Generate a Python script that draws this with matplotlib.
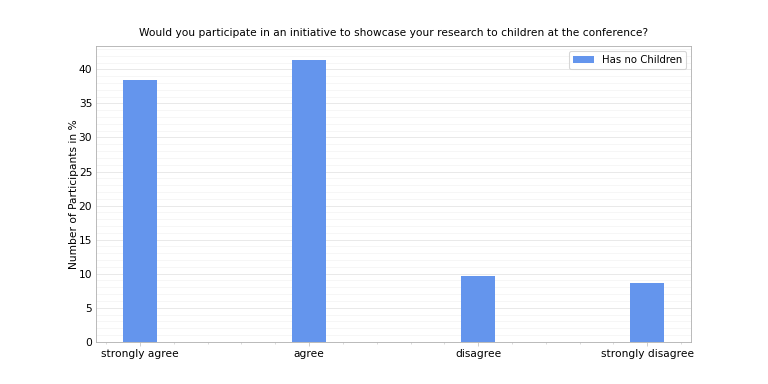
import matplotlib.pyplot as plt
import numpy as np
from matplotlib.ticker import AutoMinorLocator

categories = ["strongly agree", "agree", "disagree", "strongly disagree"]
no_children = [38.46, 41.35, 9.62, 8.65]

fig, ax = plt.subplots(figsize=(10, 5), dpi=76.8)

x = np.arange(len(categories))
ax.bar(x, no_children, width=0.2, color="cornflowerblue", label="Has no Children", zorder=3)

ax.set_xticks(x)
ax.set_xticklabels(categories)
ax.xaxis.set_minor_locator(AutoMinorLocator())
ax.yaxis.set_minor_locator(AutoMinorLocator())
ax.grid(True, which="major", axis="y", color="#e6e6e6", linewidth=0.8, zorder=0)
ax.grid(True, which="minor", axis="y", color="#f2f2f2", linewidth=0.6, zorder=0)

for s in ax.spines.values():
    s.set_color("#b0b0b0")
ax.tick_params(which="both", colors="#c8c8c8", labelcolor="black")
ax.tick_params(axis="y", which="both", length=0)

ax.set_ylabel("Number of Participants in %", labelpad=0)
ax.set_title("Would you participate in an initiative to showcase your research to children at the conference?",
             fontsize=10, pad=9)
ax.legend(loc="upper right", fontsize=9.5)

plt.savefig("out.png", dpi=76.8)
